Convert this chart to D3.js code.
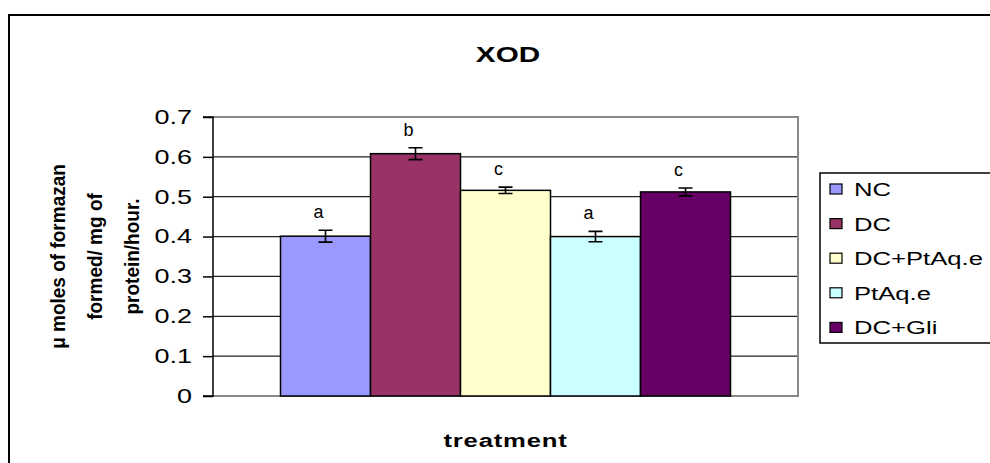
<!DOCTYPE html>
<html>
<head>
<meta charset="utf-8">
<script src="https://cdn.jsdelivr.net/npm/d3@7"></script>
<style>
  body { margin: 0; background: #fff; }
  text { font-family: "Liberation Sans", Arial, sans-serif; }
</style>
</head>
<body>
<div class="graph"></div>
<script>
// data
let groups = ['NC', 'DC', 'DC+PtAq.e', 'PtAq.e', 'DC+Gli']
let means = [0.401, 0.608, 0.516, 0.400, 0.512]
let errors = [0.015, 0.015, 0.008, 0.013, 0.010]
let letters = ['a', 'b', 'c', 'a', 'c']
let colors = ['#9999FF', '#993366', '#FFFFCC', '#CCFFFF', '#660066']
let yTicks = [0, 0.1, 0.2, 0.3, 0.4, 0.5, 0.6, 0.7]

let svgWidth = 990
let svgHeight = 463
let stretch = 1.35 // text in the original looks widened

let margin = { left: 213, top: 117, right: 192, bottom: 67 }
let width = svgWidth - margin.left - margin.right
let height = svgHeight - margin.top - margin.bottom

let root = d3.select('.graph')
  .append('svg')
  .attr('width', svgWidth)
  .attr('height', svgHeight)

// outer chart border (runs off the right/bottom edge)
root.append('rect')
  .attr('x', 9).attr('y', 15)
  .attr('width', 1000).attr('height', 470)
  .attr('fill', 'none')
  .attr('stroke', '#000')
  .attr('stroke-width', 2)

function wideText(parent, x, y, txt, size, bold) {
  return parent.append('text')
    .attr('transform', `translate(${x},${y}) scale(${stretch},1)`)
    .attr('font-size', size)
    .attr('font-weight', bold ? 'bold' : 'normal')
    .text(txt)
}

wideText(root, 508, 62, 'XOD', 22, true).attr('text-anchor', 'middle')

let svg = root.append('g')
  .attr('transform', `translate(${margin.left},${margin.top})`)

// scales
let yScale = d3.scaleLinear().domain([0, 0.7]).range([height, 0])
let x0 = d3.scaleBand().domain(['treatment']).range([0, width]).paddingOuter(0.15)
let x1 = d3.scaleBand().domain(groups).range([0, x0.bandwidth()])

// gridlines
svg.selectAll('.grid')
  .data(yTicks.slice(1, -1))
  .join('line')
  .attr('x1', 0).attr('x2', width)
  .attr('y1', d => yScale(d)).attr('y2', d => yScale(d))
  .attr('stroke', '#222').attr('stroke-width', 1.3)

// plot frame
svg.append('path')
  .attr('d', `M0,0H${width}V${height}H0`)
  .attr('fill', 'none').attr('stroke', '#888').attr('stroke-width', 2)

// bars
let g = svg.append('g').attr('transform', `translate(${x0('treatment')},0)`)
g.selectAll('rect')
  .data(groups)
  .join('rect')
  .attr('x', d => x1(d))
  .attr('y', (d, i) => yScale(means[i]))
  .attr('width', x1.bandwidth())
  .attr('height', (d, i) => height - yScale(means[i]))
  .attr('fill', (d, i) => colors[i])
  .attr('stroke', '#000').attr('stroke-width', 1.5)

// error bars
let cx = d => x1(d) + x1.bandwidth() / 2
g.selectAll('.err')
  .data(groups)
  .join('path')
  .attr('d', (d, i) => {
    let top = yScale(means[i] + errors[i]), bot = yScale(means[i] - errors[i])
    return `M${cx(d) - 7},${top}H${cx(d) + 7}M${cx(d)},${top}V${bot}M${cx(d) - 7},${bot}H${cx(d) + 7}`
  })
  .attr('fill', 'none').attr('stroke', '#000').attr('stroke-width', 1.6)

// significance letters
g.selectAll('.lett')
  .data(groups)
  .join('text')
  .attr('x', d => cx(d) - 7)
  .attr('y', (d, i) => yScale(means[i] + errors[i]) - 12)
  .attr('text-anchor', 'middle')
  .attr('font-size', 18)
  .text((d, i) => letters[i])

// axis
let yAxis = d3.axisLeft(yScale).tickValues(yTicks).tickSize(10)
  .tickFormat(d => d === 0 ? '0' : d3.format('.1f')(d))
svg.append('g').attr('id', 'y-axis').call(yAxis)
d3.select('#y-axis .domain').attr('d', `M-10,${height}H0V0H-10`).attr('stroke-width', 1.5)
d3.selectAll('#y-axis line').attr('stroke-width', 1.5)
d3.selectAll('#y-axis .tick text')
  .attr('x', -21 / stretch)
  .attr('transform', `scale(${stretch},1)`)
  .attr('font-size', 20).attr('fill', '#000')
  .style('font-family', '"Liberation Sans", Arial, sans-serif')

// y label
let yLab = root.append('text')
  .attr('transform', `translate(94,${margin.top + height / 2}) scale(1.1,1) rotate(-90)`)
  .attr('text-anchor', 'middle')
  .attr('font-size', 19).attr('font-weight', 'bold')
let labLines = ['μ moles of formazan', 'formed/ mg of', 'protein/hour.']
labLines.forEach((l, i) => {
  yLab.append('tspan').attr('x', 0).attr('y', (i - 1) * 33.5 + 7).text(l)
})

// x label
wideText(root, margin.left + width / 2, 447, 'treatment', 19, true)
  .attr('text-anchor', 'middle')
  .attr('letter-spacing', 0.6)

// legend
let legend = root.append('g').attr('transform', 'translate(820,173)')
legend.append('rect')
  .attr('width', 200).attr('height', 170)
  .attr('fill', '#fff').attr('stroke', '#000').attr('stroke-width', 1.5)
let items = legend.selectAll('.item')
  .data(groups)
  .join('g')
  .attr('transform', (d, i) => `translate(10,${16 + i * 34.6})`)
items.append('rect')
  .attr('x', 0).attr('y', -5).attr('width', 12).attr('height', 10)
  .attr('fill', (d, i) => colors[i]).attr('stroke', '#000').attr('stroke-width', 1.2)
items.append('text')
  .attr('transform', `translate(24,7) scale(${stretch},1)`)
  .attr('font-size', 19)
  .text(d => d)
</script>
</body>
</html>
